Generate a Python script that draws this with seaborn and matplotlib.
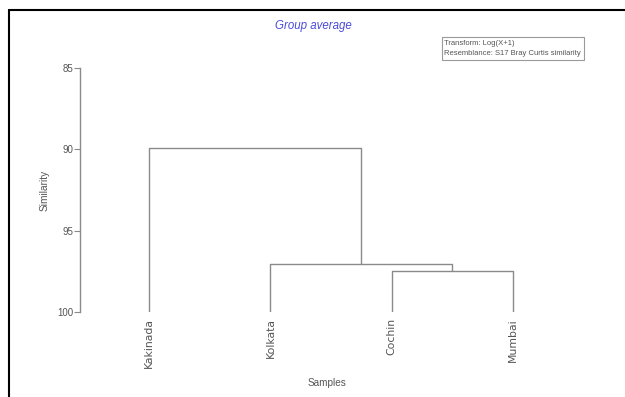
import numpy as np
import pandas as pd
import matplotlib
matplotlib.use("Agg")
import matplotlib.pyplot as plt
import seaborn as sns
from matplotlib.lines import Line2D

# ---- data ----
leaves = ["Kakinada", "Kolkata", "Cochin", "Mumbai"]
# merges: (left cluster, right cluster, similarity)
merge_left = ["Cochin", "Kolkata", "Kakinada"]
merge_right = ["Mumbai", "C1", "C2"]
merge_sim = [97.5, 97.05, 89.9]
yticks = [85, 90, 95, 100]

sns.set_style("white")
plt.rcParams['font.family'] = ['Liberation Sans', 'DejaVu Sans']

# build dendrogram segments from the data
pos = {name: i + 1 for i, name in enumerate(leaves)}
height = {name: 100.0 for name in leaves}
rows = []
seg = 0
for k, (a, b, s) in enumerate(zip(merge_left, merge_right, merge_sim)):
    xa, xb = pos[a], pos[b]
    ha, hb = height[a], height[b]
    for xx, yy in [(xa, ha), (xa, s), (xb, s), (xb, hb)]:
        rows.append({"x": xx, "y": yy, "seg": seg})
    seg += 1
    cname = f"C{k + 1}"
    pos[cname] = (xa + xb) / 2
    height[cname] = s
df = pd.DataFrame(rows)

fig = plt.figure(figsize=(6.25, 3.97), dpi=100)
ax = fig.add_axes([0.128, 0.2141, 0.79, 0.6146])
sns.lineplot(data=df, x="x", y="y", units="seg", estimator=None, sort=False,
             color="#8a8a8a", linewidth=1.0, ax=ax, legend=False)

ax.set_ylim(100, 85)
ax.set_xlim(1 - 0.569, 4.5)
for sp in ["top", "right", "bottom"]:
    ax.spines[sp].set_visible(False)
ax.spines["left"].set_color("#8a8a8a")
ax.spines["left"].set_linewidth(1.0)
ax.set_yticks(yticks)
ax.set_yticklabels([str(t) for t in yticks])
ax.tick_params(axis="y", left=True, length=4.5, width=0.8, color="#8a8a8a",
               labelsize=7, labelcolor="#555555", pad=0.5)
ax.set_xticks([pos[n] for n in leaves])
ax.set_xticklabels(leaves, rotation=90, fontsize=7.8, color="#555555",
                   family=['DejaVu Sans'])
ax.tick_params(axis="x", bottom=False, length=0, pad=4.5)
ax.set_xlabel("Samples", fontsize=7.2, color="#555555", labelpad=7)
ax.set_ylabel("Similarity", fontsize=7.3, color="#555555", labelpad=5)

fig.text(0.502, 0.934, "Group average", ha="center", va="center",
         fontsize=8.3, style="italic", color="#4a4ad8")

fig.text(0.711, 0.899, "Transform: Log(X+1)\nResemblance: S17 Bray Curtis similarity",
         ha="left", va="top", fontsize=5.5, color="#555555", linespacing=1.55,
         bbox=dict(boxstyle="square,pad=0.35", fc="white", ec="#9a9a9a", lw=0.8))

# frame lines (top and left)
fig.add_artist(Line2D([9 / 625, 1.0], [1 - 10 / 397, 1 - 10 / 397],
                      transform=fig.transFigure, color="black", lw=1.5))
fig.add_artist(Line2D([9 / 625, 9 / 625], [0, 1 - 10 / 397],
                      transform=fig.transFigure, color="black", lw=1.5))

fig.savefig("out.png", dpi=100, facecolor="white")
